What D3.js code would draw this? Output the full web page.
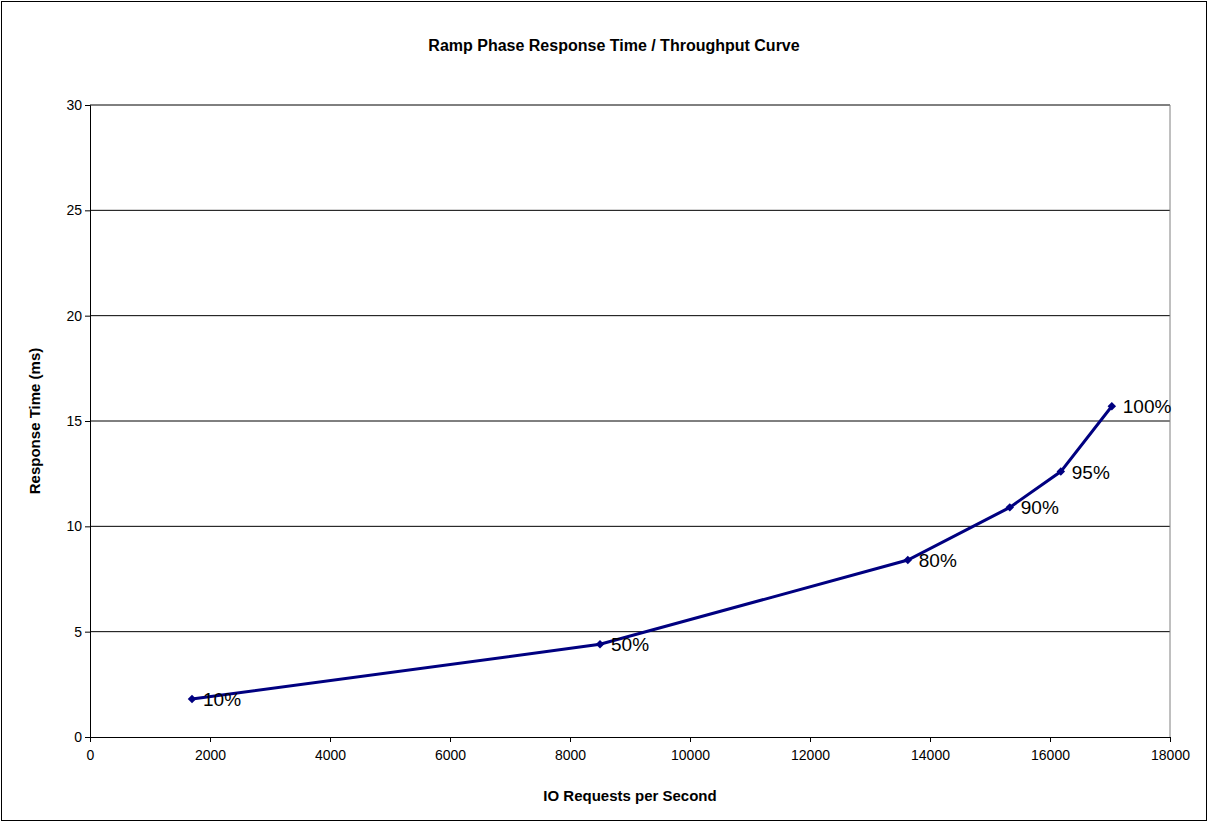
<!DOCTYPE html>
<html><head><meta charset="utf-8">
<script src="https://cdn.jsdelivr.net/npm/d3@7"></script>
<style>body{margin:0;background:#fff;font-family:Arial,"Liberation Sans",sans-serif}</style>
</head><body><svg id="c" width="1209" height="823"></svg>
<script>
var iops = [1700, 8500, 13630, 15330, 16180, 17030];
var respTime = [1.8, 4.4, 8.4, 10.9, 12.6, 15.7];
var loadLabels = ['10%', '50%', '80%', '90%', '95%', '100%'];
var xTicks = [0, 2000, 4000, 6000, 8000, 10000, 12000, 14000, 16000, 18000];
var yTicks = [0, 5, 10, 15, 20, 25, 30];

var svg = d3.select('#c');
var m = {l: 90, t: 105, r: 1170, b: 737};
var x = d3.scaleLinear().domain([0, 18000]).range([m.l, m.r]);
var y = d3.scaleLinear().domain([0, 30]).range([m.b, m.t]);

svg.append('rect').attr('x', 1.5).attr('y', 1.5).attr('width', 1205).attr('height', 819)
  .attr('fill', '#fff').attr('stroke', '#000');

svg.append('text').attr('x', 614).attr('y', 51).attr('text-anchor', 'middle')
  .style('font-size', '16px').style('font-weight', 'bold').text('Ramp Phase Response Time / Throughput Curve');

svg.selectAll('.grid').data(yTicks.slice(1)).enter().append('line')
  .attr('x1', m.l).attr('x2', m.r).attr('y1', y).attr('y2', y).attr('stroke', '#000');
svg.append('line').attr('x1', m.r).attr('x2', m.r).attr('y1', m.t).attr('y2', m.b).attr('stroke', '#808080');

var xa = svg.append('g').attr('transform', 'translate(0,' + m.b + ')')
  .call(d3.axisBottom(x).tickValues(xTicks).tickSize(5).tickFormat(d3.format('d')));
var ya = svg.append('g').attr('transform', 'translate(' + m.l + ',0)')
  .call(d3.axisLeft(y).tickValues(yTicks).tickSize(5));
[xa, ya].forEach(function(a){
  a.selectAll('text').style('font-size', '14px').style('font-family', 'Arial,"Liberation Sans",sans-serif').attr('fill', '#000');
  a.selectAll('line,path').attr('stroke', '#000');
});
xa.selectAll('text').attr('dy', '1.1em');

svg.append('text').attr('x', (m.l + m.r) / 2).attr('y', 801).attr('text-anchor', 'middle')
  .style('font-size', '15px').style('font-weight', 'bold').text('IO Requests per Second');
svg.append('text').attr('transform', 'translate(40,' + (m.t + m.b) / 2 + ') rotate(-90)')
  .attr('text-anchor', 'middle').style('font-size', '15px').style('font-weight', 'bold').text('Response Time (ms)');

var pts = iops.map(function(v, i){ return [v, respTime[i], loadLabels[i]]; });
svg.append('path').datum(pts).attr('fill', 'none').attr('stroke', '#000080').attr('stroke-width', 3)
  .attr('d', d3.line().x(function(d){ return x(d[0]); }).y(function(d){ return y(d[1]); }));
svg.selectAll('.pt').data(pts).enter().append('path')
  .attr('d', d3.symbol().type(d3.symbolSquare).size(36))
  .attr('transform', function(d){ return 'translate(' + x(d[0]) + ',' + y(d[1]) + ') rotate(45)'; })
  .attr('fill', '#000080');
svg.selectAll('.lb').data(pts).enter().append('text')
  .attr('x', function(d){ return x(d[0]) + 11; }).attr('y', function(d){ return y(d[1]) + 7; })
  .style('font-size', '19px').text(function(d){ return d[2]; });
</script></body></html>
